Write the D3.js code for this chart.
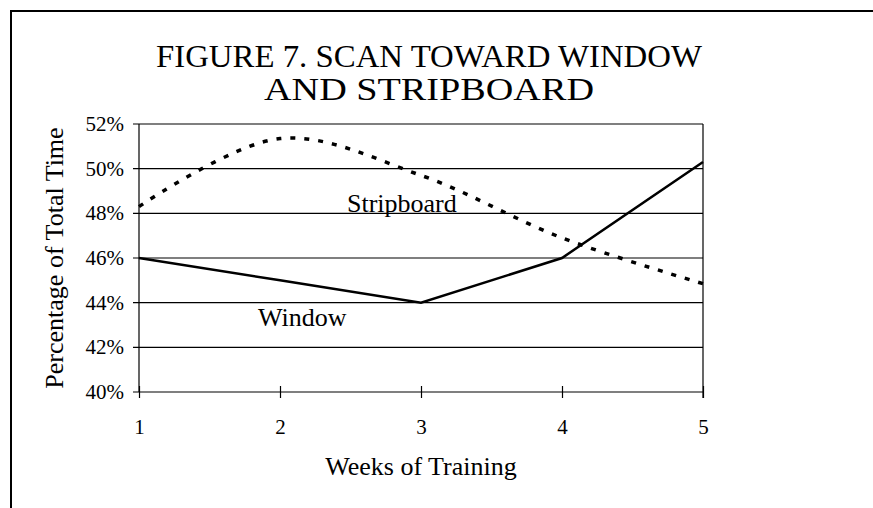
<!DOCTYPE html>
<html>
<head>
<meta charset="utf-8">
<script src="https://cdn.jsdelivr.net/npm/d3@7"></script>
<style>
  body { margin: 0; background: #fff; }
  svg { display: block; font-family: "Liberation Serif", "Times New Roman", serif; }
</style>
</head>
<body>
<svg></svg>
<script>
const weeks = [1, 2, 3, 4, 5];
const windowPct = [46.0, 45.0, 44.0, 46.0, 50.3];
const stripboardPct = [48.3, 51.35, 49.7, 46.9, 44.85];
const yTicks = [40, 42, 44, 46, 48, 50, 52];

const width = 873;
const height = 508;
const margin = { left: 139, top: 124, right: 170, bottom: 116 };

const svg = d3.select('svg')
    .attr('width', width)
    .attr('height', height);

// outer frame (only top and left edges show in the picture)
svg.append('path')
    .attr('d', `M11,${height} V11 H${width}`)
    .attr('fill', 'none')
    .attr('stroke', '#000')
    .attr('stroke-width', 2);

const x = d3.scaleLinear()
    .domain([1, 5])
    .range([margin.left, width - margin.right]);

const y = d3.scaleLinear()
    .domain([40, 52])
    .range([height - margin.bottom, margin.top]);

// gridlines
svg.append('g')
    .selectAll('line').data(yTicks)
    .enter().append('line')
    .attr('x1', margin.left - 6)
    .attr('x2', x(5))
    .attr('y1', d => y(d))
    .attr('y2', d => y(d))
    .attr('stroke', '#000')
    .attr('stroke-width', 1.2);

// left and right plot edges
svg.append('line')
    .attr('x1', x(1)).attr('x2', x(1))
    .attr('y1', y(52)).attr('y2', y(40))
    .attr('stroke', '#000').attr('stroke-width', 1.2);
svg.append('line')
    .attr('x1', x(5)).attr('x2', x(5))
    .attr('y1', y(52)).attr('y2', y(40) + 6)
    .attr('stroke', '#000').attr('stroke-width', 1.2);

// y axis labels
svg.append('g')
    .selectAll('text').data(yTicks)
    .enter().append('text')
    .attr('x', margin.left - 15)
    .attr('y', d => y(d))
    .attr('dy', '0.33em')
    .attr('text-anchor', 'end')
    .attr('font-size', 21)
    .text(d => d + '%');

// x axis ticks and labels
const xAxis = d3.axisBottom(x)
    .tickValues(weeks)
    .tickFormat(d3.format('d'))
    .tickSize(6)
    .tickPadding(21);

const xg = svg.append('g')
    .attr('transform', `translate(0,${y(40)})`)
    .call(xAxis)
    .attr('font-family', null)
    .attr('font-size', 21);
xg.select('.domain').remove();
xg.selectAll('.tick line')
    .attr('y1', -6)
    .attr('stroke-width', 1.2);

// series
const windowLine = d3.line()
    .x((d, i) => x(weeks[i]))
    .y(d => y(d));

const stripLine = d3.line()
    .x((d, i) => x(weeks[i]))
    .y(d => y(d))
    .curve(d3.curveCatmullRom.alpha(0.5));

svg.append('path')
    .datum(stripboardPct)
    .attr('d', stripLine)
    .attr('fill', 'none')
    .attr('stroke', '#000')
    .attr('stroke-width', 3.5)
    .attr('stroke-dasharray', '5,9');

svg.append('path')
    .datum(windowPct)
    .attr('d', windowLine)
    .attr('fill', 'none')
    .attr('stroke', '#000')
    .attr('stroke-width', 2.5);

// series labels
svg.append('text')
    .attr('x', 347)
    .attr('y', 212)
    .attr('font-size', 26)
    .text('Stripboard');

svg.append('text')
    .attr('x', 258)
    .attr('y', 326)
    .attr('font-size', 26)
    .text('Window');

// titles
const title = svg.append('text')
    .attr('text-anchor', 'middle')
    .attr('font-size', 31);
title.append('tspan').attr('x', 429).attr('y', 67)
    .attr('textLength', 546).attr('lengthAdjust', 'spacingAndGlyphs')
    .text('FIGURE 7.  SCAN TOWARD WINDOW');
title.append('tspan').attr('x', 429).attr('y', 100)
    .attr('textLength', 330).attr('lengthAdjust', 'spacingAndGlyphs')
    .text('AND STRIPBOARD');

svg.append('text')
    .attr('x', (x(1) + x(5)) / 2)
    .attr('y', 475)
    .attr('text-anchor', 'middle')
    .attr('font-size', 26)
    .text('Weeks of Training');

svg.append('text')
    .attr('transform', `translate(63,${(y(40) + y(52)) / 2}) rotate(-90)`)
    .attr('text-anchor', 'middle')
    .attr('font-size', 26)
    .text('Percentage of Total Time');
</script>
</body>
</html>
